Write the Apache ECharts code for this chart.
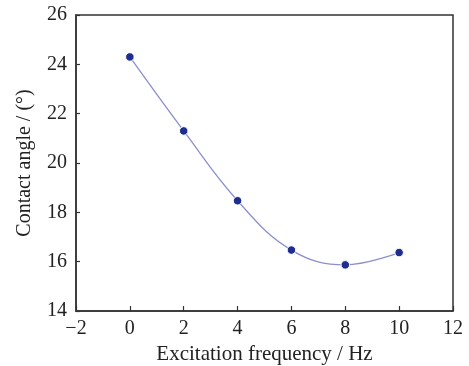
<!DOCTYPE html>
<html><head><meta charset="utf-8">
<script src="https://cdn.jsdelivr.net/npm/echarts@6/dist/echarts.min.js"></script>
<style>html,body{margin:0;padding:0;background:#fff}#c{width:469px;height:366px}</style>
</head><body><div id="c"></div>
<script>
const freq = [0, 2, 4, 6, 8, 10];
const angle = [24.3, 21.3, 18.47, 16.47, 15.87, 16.37];
const xTitle = 'Excitation frequency / Hz';
const yTitle = 'Contact angle / (°)';
const font = '"Liberation Serif", "Times New Roman", serif';
const fmt = v => (v < 0 ? '\u2212' + Math.abs(v) : String(v));
const chart = echarts.init(document.getElementById('c'));
chart.setOption({
  animation: false,
  grid: {left: 76, right: 16, top: 15, bottom: 55, containLabel: false, outerBoundsMode: 'none',
         show: true, borderColor: '#333', borderWidth: 1.5, backgroundColor: 'transparent'},
  xAxis: {
    type: 'value', min: -2, max: 12, interval: 2,
    name: xTitle, nameLocation: 'middle', nameGap: 32,
    nameTextStyle: {fontFamily: font, fontSize: 21, color: '#222'},
    axisLine: {onZero: false, lineStyle: {color: '#333', width: 1.5}},
    axisTick: {inside: true, length: 5, lineStyle: {color: '#333', width: 1.2}},
    axisLabel: {fontFamily: font, fontSize: 20, color: '#222', margin: 8, formatter: fmt},
    splitLine: {show: false}
  },
  yAxis: {
    type: 'value', min: 14, max: 26, interval: 2,
    name: yTitle, nameLocation: 'middle', nameGap: 41, nameRotate: 90,
    nameTextStyle: {fontFamily: font, fontSize: 20, color: '#222'},
    axisLine: {onZero: false, lineStyle: {color: '#333', width: 1.5}},
    axisTick: {inside: true, length: 4, lineStyle: {color: '#333', width: 1.2}},
    axisLabel: {fontFamily: font, fontSize: 20, color: '#222', margin: 9, formatter: fmt},
    splitLine: {show: false}
  },
  series: [{
    type: 'line',
    data: freq.map((f, i) => [f, angle[i]]),
    smooth: 0.4,
    symbol: 'circle', symbolSize: 8.5,
    lineStyle: {color: '#8b8fcf', width: 1.3},
    itemStyle: {color: '#1f2d8f', borderColor: '#fff', borderWidth: 1}
  }]
});
</script></body></html>
